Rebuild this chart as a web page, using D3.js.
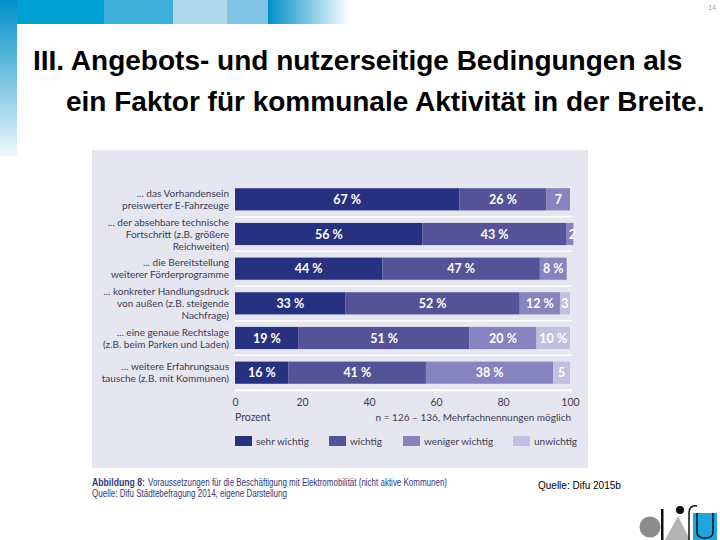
<!DOCTYPE html>
<html><head><meta charset="utf-8">
<script src="https://cdn.jsdelivr.net/npm/d3@7"></script>
<style>
html,body{margin:0;padding:0;background:#fff;}
svg{display:block;}
</style></head>
<body>
<svg id="c" width="720" height="540"></svg>
<script>
// ---- data ----
const categories = [
  ["... das Vorhandensein", "preiswerter E-Fahrzeuge"],
  ["... der absehbare technische", "Fortschritt (z.B. größere", "Reichweiten)"],
  ["... die Bereitstellung", "weiterer Förderprogramme"],
  ["... konkreter Handlungsdruck", "von außen (z.B. steigende", "Nachfrage)"],
  ["... eine genaue Rechtslage", "(z.B. beim Parken und Laden)"],
  ["... weitere Erfahrungsaus", "tausche (z.B. mit Kommunen)"]
];
const seriesNames = ["sehr wichtig", "wichtig", "weniger wichtig", "unwichtig"];
const sehrWichtig = [67, 56, 44, 33, 19, 16];
const wichtig = [26, 43, 47, 52, 51, 41];
const wenigerWichtig = [7, 2, 8, 12, 20, 38];
const unwichtig = [0, 0, 0, 3, 10, 5];
// segments whose label is shown without % sign: [row, series]
const noPercent = [[0,2],[1,2],[3,3],[5,3]];
const xTicks = [0, 20, 40, 60, 80, 100];
const colors = ["#28317f", "#545397", "#8683bf", "#c2c0e0"];

const svg = d3.select("#c");

// ---- slide decoration ----
const topSegs = [
  {x0:0, x1:104, c:"#00a0d2"},
  {x0:104, x1:173, c:"#3fb0da"},
  {x0:173, x1:227, c:"#b0d9ee"},
  {x0:227, x1:268, c:"#80c5e5"}
];
const defs = svg.append("defs");
const gH = defs.append("linearGradient").attr("id","gh").attr("x1","0").attr("x2","1").attr("y1","0").attr("y2","0");
gH.append("stop").attr("offset","0").attr("stop-color","#0090c8");
gH.append("stop").attr("offset","1").attr("stop-color","#ffffff");
const gV = defs.append("linearGradient").attr("id","gv").attr("x1","0").attr("x2","0").attr("y1","0").attr("y2","1");
gV.append("stop").attr("offset","0").attr("stop-color","#0090c8");
gV.append("stop").attr("offset","1").attr("stop-color","#eef7fb");
svg.selectAll("rect.top").data(topSegs).enter().append("rect")
  .attr("x", d=>d.x0).attr("y",0).attr("width", d=>d.x1-d.x0).attr("height",24).attr("fill", d=>d.c);
svg.append("rect").attr("x",268).attr("y",0).attr("width",82).attr("height",24).attr("fill","url(#gh)");
svg.append("rect").attr("x",0).attr("y",0).attr("width",17).attr("height",156).attr("fill","url(#gv)");
svg.append("text").attr("x",716).attr("y",10).attr("text-anchor","end")
  .attr("font-family","Liberation Sans, Arial").attr("font-size",7).attr("fill","#999").text("14");

// title
const title = svg.append("text").attr("font-family","Liberation Sans, Arial, sans-serif")
  .attr("font-weight","bold").attr("font-size",28).attr("fill","#000");
title.append("tspan").attr("x",33).attr("y",70).text("III. Angebots- und nutzerseitige Bedingungen als");
title.append("tspan").attr("x",66).attr("y",111).text("ein Faktor für kommunale Aktivität in der Breite.");

// ---- chart panel ----
svg.append("rect").attr("x",92).attr("y",150).attr("width",496).attr("height",318).attr("fill","#e6e6f0");

const x = d3.scaleLinear().domain([0,100]).range([235,570]);
const y = d3.scaleBand().domain(d3.range(categories.length)).range([182,390]).paddingInner(0.36).paddingOuter(0.18);

const rows = categories.map((c,i)=>({i, vals:[sehrWichtig[i], wichtig[i], wenigerWichtig[i], unwichtig[i]]}));
const stackData = rows.map(r=>{const o={i:r.i}; seriesNames.forEach((s,k)=>o[s]=r.vals[k]); return o;});
const stacked = d3.stack().keys(seriesNames)(stackData);

const fontChart = "Lato, 'Open Sans', sans-serif";

// separators
const step = y.step();
const sepY = d3.range(categories.length).map(i=> y(i)+y.bandwidth()+(step-y.bandwidth())/2);
svg.selectAll("line.sep").data(sepY).enter().append("line")
  .attr("x1",x(0)).attr("x2",x(100)+2).attr("y1",d=>d).attr("y2",d=>d)
  .attr("stroke","#ffffff").attr("stroke-width",1.5);

// bars
stacked.forEach((layer,k)=>{
  const g = svg.append("g");
  g.selectAll("rect").data(layer).enter().append("rect")
    .attr("x", d=>x(d[0])).attr("y", (d,i)=>y(i))
    .attr("width", d=>Math.max(0, x(d[1])-x(d[0]))).attr("height", y.bandwidth())
    .attr("fill", colors[k]);
  g.selectAll("text").data(layer.filter(d=>d[1]-d[0]>0).map(d=>({d, i:d.data.i}))).enter().append("text")
    .attr("x", o=>{
      const w = x(o.d[1])-x(o.d[0]);
      return w < 10 ? x(o.d[1]) - 1 : (x(o.d[0])+x(o.d[1]))/2;
    })
    .attr("y", o=>y(o.i)+y.bandwidth()/2+4.5)
    .attr("text-anchor","middle")
    .attr("font-family", fontChart).attr("font-weight","bold").attr("font-size",12.5)
    .attr("fill","#ffffff")
    .text(o=>{
      const v = o.d[1]-o.d[0];
      const np = noPercent.some(p=>p[0]===o.i && p[1]===k);
      return np ? String(v) : v+" %";
    });
});

// category labels
categories.forEach((lines,i)=>{
  const cy = y(i)+y.bandwidth()/2;
  const lh = 12;
  const t = svg.append("text").attr("text-anchor","end").attr("font-family",fontChart)
    .attr("font-size",10).attr("fill","#3b3b55");
  lines.forEach((l,j)=>{
    t.append("tspan").attr("x",229).attr("y", cy - (lines.length-1)*lh/2 + j*lh + 3.5).text(l);
  });
});

// x axis
const axis = d3.axisBottom(x).tickValues(xTicks).tickSize(3).tickFormat(d3.format("d"));
const ax = svg.append("g").attr("transform","translate(0,390)").call(axis);
ax.select(".domain").attr("stroke","#ffffff").attr("stroke-width",1.5);
ax.selectAll(".tick line").attr("stroke","#ffffff");
ax.selectAll(".tick text").attr("font-family",fontChart).attr("font-size",10.5).attr("fill","#3b3b55").attr("dy","0.95em");

svg.append("text").attr("x",235).attr("y",421).attr("font-family",fontChart).attr("font-size",10.5)
  .attr("fill","#3b3b55").text("Prozent");
svg.append("text").attr("x",571).attr("y",421).attr("text-anchor","end").attr("font-family",fontChart).attr("font-size",10)
  .attr("fill","#3b3b55").text("n = 126 – 136, Mehrfachnennungen möglich");

// legend
const legX = [235, 329, 403, 513];
const lg = svg.append("g");
seriesNames.forEach((s,k)=>{
  lg.append("rect").attr("x",legX[k]).attr("y",436).attr("width",17).attr("height",10).attr("fill",colors[k]);
  lg.append("text").attr("x",legX[k]+21).attr("y",445).attr("font-family",fontChart).attr("font-size",10)
    .attr("fill","#3b3b55").text(s);
});

// caption
const capFont = "'Liberation Sans Narrow', 'Arial Narrow', 'Liberation Sans', sans-serif";
svg.append("text").attr("x",92).attr("y",486).attr("font-family",capFont)
  .attr("font-size",10).attr("font-weight","bold").attr("fill","#33397a")
  .attr("textLength",53).attr("lengthAdjust","spacingAndGlyphs").text("Abbildung 8:");
svg.append("text").attr("x",148).attr("y",486).attr("font-family",capFont)
  .attr("font-size",10).attr("fill","#33397a")
  .attr("textLength",299).attr("lengthAdjust","spacingAndGlyphs")
  .text("Voraussetzungen für die Beschäftigung mit Elektromobilität (nicht aktive Kommunen)");
svg.append("text").attr("x",92).attr("y",497).attr("font-family",capFont)
  .attr("font-size",10).attr("fill","#33397a")
  .attr("textLength",195).attr("lengthAdjust","spacingAndGlyphs")
  .text("Quelle: Difu Städtebefragung 2014, eigene Darstellung");

svg.append("text").attr("x",538).attr("y",489).attr("font-family","Liberation Sans, Arial").attr("font-size",10)
  .attr("fill","#000").text("Quelle: Difu 2015b");

// logo
const logo = svg.append("g");
logo.append("circle").attr("cx",650).attr("cy",527).attr("r",10.5).attr("fill","#8c8c8c");
logo.append("rect").attr("x",661).attr("y",509).attr("width",2.5).attr("height",31).attr("fill","#111");
logo.append("path").attr("d","M665,540 L678,516 L690,540 Z").attr("fill","#b4b4b4");
logo.append("circle").attr("cx",680).attr("cy",510).attr("r",4).attr("fill","#111");
logo.append("path").attr("d","M689,540 L689,512 Q690,505 697,506").attr("fill","none").attr("stroke","#111").attr("stroke-width",1.5);
logo.append("rect").attr("x",693).attr("y",513).attr("width",24).attr("height",27).attr("fill","#1ea5e0");
logo.append("path").attr("d","M697,513 L697,532 Q697,538 705,538 Q713,538 713,532 L713,513").attr("fill","none").attr("stroke","#111").attr("stroke-width",1.5);
</script>
</body></html>
